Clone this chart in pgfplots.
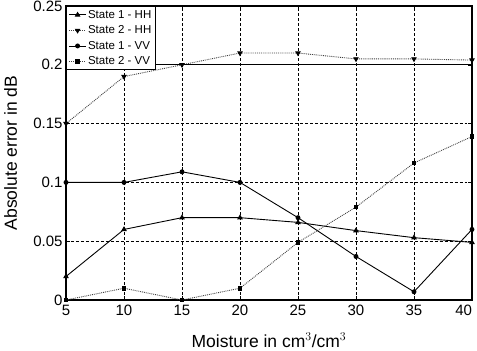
\documentclass[border=0pt]{standalone}
\usepackage{pgfplots}
\pgfplotsset{compat=1.18}
\usepackage{fontspec}
\setmainfont{Liberation Sans}
\begin{document}
\begin{tikzpicture}
\begin{axis}[
  name=ax,
  scale only axis,
  width=406bp, height=294bp,
  xmin=5, xmax=40, ymin=0, ymax=0.25,
  xtick={5,10,...,40},
  xticklabels={5,10,15,20,25,30,35,\llap{40}\kern0pt},
  ytick={0,0.05,0.1,0.15,0.2,0.25},
  yticklabels={0,0.05,0.1,0.15,0.2,0.25},
  /pgf/number format/assume math mode=true,
  tick label style={font=\fontsize{15bp}{16bp}\selectfont},
  xticklabel style={yshift=-1.5bp},
  xlabel={Moisture in cm$^{3}$/cm$^{3}$},
  ylabel={Absolute error in dB},
  every axis x label/.style={at={(axis description cs:0.5,-0.16)}, anchor=base, font=\fontsize{17.5bp}{19bp}\selectfont},
  every axis y label/.style={at={(axis description cs:-0.1207,0.5)}, anchor=base, rotate=90, font=\fontsize{17.5bp}{19bp}\selectfont},
  grid=major,
  major grid style={densely dashed, black, line width=0.7pt},
  axis line style={line width=1.1pt},
  tick style={black},
  tick align=inside,
  legend style={at={(0,1)}, anchor=north west, font=\fontsize{11.5bp}{12.5bp}\selectfont, draw=black, line width=0.9pt, row sep=3bp, inner sep=2.2pt, nodes={inner sep=1.5bp}},
  legend image post style={line width=0.9pt},
  legend cell align=left,
  clip=false,
]
\addplot[black, line width=0.9pt, mark=triangle*, mark size=2.4pt] coordinates {
(5,0.02) (10,0.06) (15,0.07) (20,0.07) (25,0.066) (30,0.059) (35,0.053) (40,0.049)};
\addlegendentry{State 1 - HH}
\addplot[black!75, densely dotted, line width=0.9pt, mark=triangle*, mark options={solid, black, rotate=180}, mark size=2.4pt] coordinates {
(5,0.15) (10,0.19) (15,0.20) (20,0.21) (25,0.21) (30,0.205) (35,0.205) (40,0.204)};
\addlegendentry{State 2 - HH}
\addplot[black, line width=0.9pt, mark=*, mark size=2pt] coordinates {
(5,0.1) (10,0.1) (15,0.109) (20,0.1) (25,0.07) (30,0.037) (35,0.007) (40,0.06)};
\addlegendentry{State 1 - VV}
\addplot[black!75, densely dotted, line width=0.9pt, mark=square*, mark options={solid, black}, mark size=1.8pt] coordinates {
(5,0) (10,0.01) (15,0) (20,0.01) (25,0.049) (30,0.079) (35,0.1165) (40,0.139)};
\addlegendentry{State 2 - VV}
\draw[black, line width=1.1pt] (axis cs:5,0.2) -- (axis cs:40,0.2);
\end{axis}
\pgfresetboundingbox
\path ([shift={(-66bp,-51bp)}]ax.south west) rectangle ([shift={(5bp,6bp)}]ax.north east);
\end{tikzpicture}
\end{document}
